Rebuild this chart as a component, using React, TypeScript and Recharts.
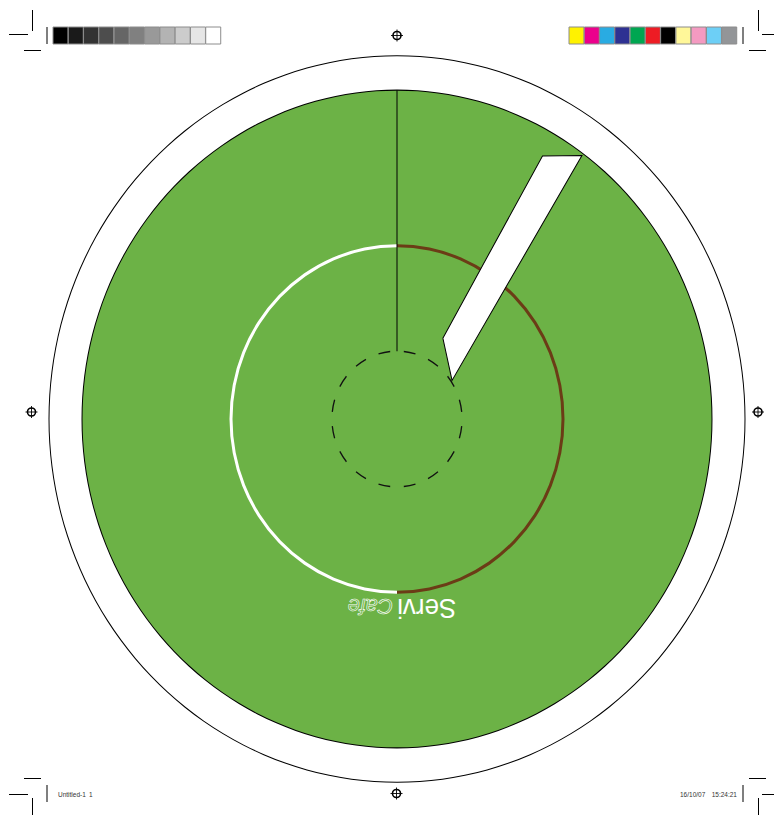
import React from 'react';
import { PieChart, Pie, Cell, BarChart, Bar, XAxis, YAxis } from 'recharts';

// colour control strips (print marks)
const grayPatches = ['K100', 'K90', 'K80', 'K70', 'K60', 'K50', 'K40', 'K30', 'K20', 'K10', 'K0'];
const grayPatchColors = ['#000000', '#1a1a1a', '#333333', '#4d4d4d', '#666666', '#808080', '#999999', '#b3b3b3', '#cccccc', '#e6e6e6', '#ffffff'];
const processPatches = ['Y', 'M', 'C', 'CM', 'CY', 'MY', 'K', 'Y50', 'M50', 'C50', 'K50'];
const processPatchColors = ['#fff200', '#ec008c', '#29abe2', '#2e3192', '#00a651', '#ed1c24', '#000000', '#fff799', '#f49ac1', '#6dcff6', '#939598'];
const patchCoverage = [1, 1, 1, 1, 1, 1, 1, 1, 1, 1, 1];

// dial
const faceNames = ['face'];
const faceValues = [1];
const bandNames = ['Cafe', 'Servi'];
const bandShares = [50, 50];
const bandColors = ['#6b3c16', '#ffffff'];
const dashNames = ['d1', 'd2', 'd3', 'd4', 'd5', 'd6', 'd7', 'd8', 'd9', 'd10', 'd11', 'd12', 'd13', 'd14', 'd15', 'd16'];
const dashValues = [1, 1, 1, 1, 1, 1, 1, 1, 1, 1, 1, 1, 1, 1, 1, 1];
const readingNames = ['reading', 'rest'];
const readingValues = [1, 11]; // 12-step dial, pointer on 1

const face = faceNames.map((name, i) => ({ name, value: faceValues[i] }));
const band = bandNames.map((name, i) => ({ name, value: bandShares[i] }));
const dashes = dashNames.map((name, i) => ({ name, value: dashValues[i] }));
const reading = readingNames.map((name, i) => ({ name, value: readingValues[i] }));

const GREEN = '#6cb246';
const RADIAN = Math.PI / 180;
const CX = 397;
const CY = 370;

function ColorBar({ names, colors, left }: { names: string[]; colors: string[]; left: number }) {
  const data = names.map((name, i) => ({ name, value: patchCoverage[i] }));
  return (
    <div style={{ position: 'absolute', left, top: 26 }}>
      <BarChart width={170} height={19} data={data} margin={{ top: 1, right: 1, bottom: 1, left: 1 }} barCategoryGap={0}>
        <XAxis dataKey="name" hide />
        <YAxis hide domain={[0, 1]} />
        <Bar dataKey="value" isAnimationActive={false} stroke="#8c8c8c" strokeWidth={1}>
          {data.map((d, i) => (
            <Cell key={d.name} fill={colors[i]} />
          ))}
        </Bar>
      </BarChart>
    </div>
  );
}

function renderPointer(props: any) {
  const { cx, cy, startAngle, endAngle, innerRadius, outerRadius, index } = props;
  if (index !== 0) return <g />;
  const polar = (r: number, a: number) => ({
    x: cx + r * Math.cos(-a * RADIAN),
    y: cy + r * Math.sin(-a * RADIAN),
  });
  const z1 = polar(innerRadius, startAngle);
  const z2 = polar(outerRadius, startAngle);
  const u = { x: Math.cos(-endAngle * RADIAN), y: Math.sin(-endAngle * RADIAN) };
  const v = { x: -u.y, y: u.x };
  const pt = (a: number, b: number) => `${cx + a * u.x + b * v.x},${cy + a * u.y + b * v.y}`;
  const poly = [pt(90, 1), pt(291, 0), pt(311, 34), pt(59.5, 29.2)].join(' ');
  const by = cy + 172;
  return (
    <g>
      <line x1={z1.x} y1={z1.y} x2={z2.x} y2={z2.y} stroke="#000" strokeWidth={1} />
      <polygon points={poly} fill="#fff" stroke="#000" strokeWidth={1} strokeLinejoin="miter" />
      <text
        x={cx - 5}
        y={by}
        textAnchor="middle"
        transform={`rotate(180 ${cx} ${by})`}
        fontFamily="'Liberation Sans', Arial, sans-serif"
        fontSize={26}
      >
        <tspan fill="#fff">Servi</tspan>
        <tspan fill="none" stroke="#fff" strokeWidth={0.6} fontStyle="italic" fontSize={21.5} dx={4}>
          Cafe
        </tspan>
      </text>
    </g>
  );
}

function Marks() {
  const reg = (x: number, y: number) => (
    <g key={`${x}-${y}`}>
      <circle cx={x} cy={y} r={4} fill="none" stroke="#000" strokeWidth={1.6} />
      <line x1={x - 6} y1={y} x2={x + 6} y2={y} stroke="#000" strokeWidth={0.9} />
      <line x1={x} y1={y - 6} x2={x} y2={y + 6} stroke="#000" strokeWidth={0.9} />
    </g>
  );
  const ln = { stroke: '#000', strokeWidth: 1 };
  const bar = { stroke: '#555', strokeWidth: 1.5 };
  const txt = { fontFamily: "'Liberation Sans', Arial, sans-serif", fontSize: 6.5, fill: '#333' };
  return (
    <svg width={774} height={815} style={{ position: 'absolute', left: 0, top: 0 }}>
      {/* top left */}
      <line x1={32.5} y1={10} x2={32.5} y2={31} {...ln} />
      <line x1={9} y1={34.5} x2={28} y2={34.5} {...ln} />
      <line x1={24} y1={50.5} x2={41} y2={50.5} {...ln} />
      <line x1={47} y1={27} x2={47} y2={44} {...bar} />
      {/* top right */}
      <line x1={758.5} y1={10} x2={758.5} y2={31} {...ln} />
      <line x1={762} y1={34.5} x2={774} y2={34.5} {...ln} />
      <line x1={749} y1={50.5} x2={766} y2={50.5} {...ln} />
      <line x1={743} y1={27} x2={743} y2={44} {...bar} />
      {/* bottom left */}
      <line x1={24} y1={778.5} x2={41} y2={778.5} {...ln} />
      <line x1={9} y1={794.5} x2={28} y2={794.5} {...ln} />
      <line x1={32.5} y1={798} x2={32.5} y2={815} {...ln} />
      <line x1={47} y1={785} x2={47} y2={802} {...bar} />
      {/* bottom right */}
      <line x1={749} y1={778.5} x2={766} y2={778.5} {...ln} />
      <line x1={762} y1={794.5} x2={774} y2={794.5} {...ln} />
      <line x1={758.5} y1={798} x2={758.5} y2={815} {...ln} />
      <line x1={743} y1={785} x2={743} y2={802} {...bar} />
      {[reg(397, 35.5), reg(396.5, 793.5), reg(31.5, 412), reg(758, 412)]}
      <text x={58} y={796.5} {...txt}>Untitled-1</text>
      <text x={89} y={796.5} {...txt}>1</text>
      <text x={680} y={796.5} {...txt}>16/10/07</text>
      <text x={737} y={796.5} textAnchor="end" {...txt}>15:24:21</text>
    </svg>
  );
}

export default function App() {
  return (
    <div style={{ position: 'absolute', left: 0, top: 0, width: 774, height: 815, background: '#fff' }}>
      <Marks />
      <ColorBar names={grayPatches} colors={grayPatchColors} left={52} />
      <ColorBar names={processPatches} colors={processPatchColors} left={568} />
      <div
        style={{
          position: 'absolute',
          left: 0,
          top: 48.5,
          width: 774,
          height: 740,
          transform: 'scaleY(1.044)',
          transformOrigin: '50% 50%',
        }}
      >
        <PieChart width={774} height={740} margin={{ top: 0, right: 0, bottom: 0, left: 0 }}>
          <Pie data={face} dataKey="value" cx={CX} cy={CY} outerRadius={348.5} fill="#000" stroke="none" isAnimationActive={false} />
          <Pie data={face} dataKey="value" cx={CX} cy={CY} outerRadius={347.5} fill="#fff" stroke="none" isAnimationActive={false} />
          <Pie data={face} dataKey="value" cx={CX} cy={CY} outerRadius={315.5} fill="#000" stroke="none" isAnimationActive={false} />
          <Pie data={face} dataKey="value" cx={CX} cy={CY} outerRadius={314.5} fill={GREEN} stroke="none" isAnimationActive={false} />
          <Pie
            data={band}
            dataKey="value"
            cx={CX}
            cy={CY}
            innerRadius={164.5}
            outerRadius={167.5}
            startAngle={90}
            endAngle={-270}
            stroke="none"
            isAnimationActive={false}
          >
            {band.map((d, i) => (
              <Cell key={d.name} fill={bandColors[i]} />
            ))}
          </Pie>
          <Pie
            data={dashes}
            dataKey="value"
            cx={CX}
            cy={CY}
            innerRadius={64.4}
            outerRadius={65.7}
            startAngle={84}
            endAngle={-276}
            paddingAngle={12}
            fill="#111"
            stroke="none"
            isAnimationActive={false}
          />
          <Pie
            data={reading}
            dataKey="value"
            cx={CX}
            cy={CY}
            innerRadius={65}
            outerRadius={315}
            startAngle={90}
            endAngle={-270}
            fill="transparent"
            stroke="none"
            labelLine={false}
            label={renderPointer}
            isAnimationActive={false}
          />
        </PieChart>
      </div>
    </div>
  );
}
